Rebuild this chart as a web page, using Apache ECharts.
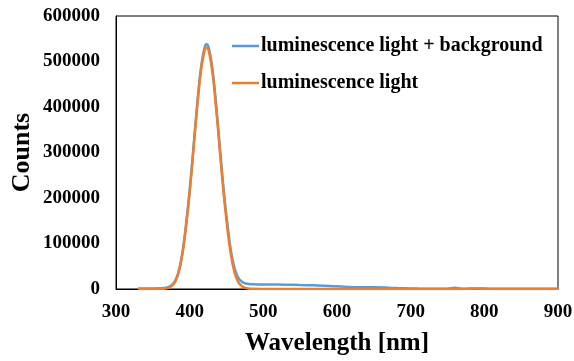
<!DOCTYPE html>
<html>
<head>
<meta charset="utf-8">
<script src="https://cdn.jsdelivr.net/npm/echarts@6/dist/echarts.min.js"></script>
<style>
  html, body { margin: 0; padding: 0; background: #fff; }
  #chart { width: 574px; height: 361px; }
</style>
</head>
<body>
<div id="chart"></div>
<script>
'use strict';

// wavelength in nm
var wavelength = [330, 340, 350, 360, 365, 370, 375, 380, 385, 390, 395, 400, 405, 410, 415, 420, 423,
  426, 431, 436, 441, 446, 451, 456, 461, 466, 471, 476, 481, 486, 496, 510, 530, 550, 570, 590,
  610, 630, 650, 670, 690, 710, 730, 750, 760, 770, 790, 810, 840, 870, 900];

// luminescence light + background
var countsTotal = [1200, 1200, 1300, 1500, 2100, 3700, 7800, 17000, 38500, 78000, 140200, 216600, 307800, 401800, 481300, 529300, 537800,
  529800, 482700, 404300, 311500, 221300, 145800, 84300, 45500, 24700, 15900, 12200, 10800, 10300, 10100, 9900, 9600, 8800, 8000, 6800,
  4800, 3600, 3800, 3000, 1600, 900, 700, 600, 2800, 500, 1300, 400, 300, 300, 300];

// luminescence light
var countsLum = [200, 200, 200, 300, 800, 2200, 6000, 15000, 36000, 75000, 136800, 212600, 303200, 396400, 475300, 522800, 531000,
  522800, 475300, 396400, 303200, 212600, 136800, 75000, 36000, 15000, 6000, 2200, 800, 300, 100, 100, 100, 100, 100, 100,
  100, 100, 100, 100, 100, 100, 100, 100, 200, 100, 1200, 100, 100, 100, 100];

var seriesNames = ['luminescence light + background', 'luminescence light'];

function pairs(xs, ys) {
  return xs.map(function (x, i) { return [x, ys[i]]; });
}

var font = 'Liberation Serif';

var option = {
  animation: false,
  grid: {
    left: 116,
    right: 16,
    top: 16,
    bottom: 72,
    outerBoundsMode: 'none',
    containLabel: false,
    show: true,
    borderColor: '#000',
    borderWidth: 1
  },
  legend: {
    orient: 'vertical',
    left: 227,
    top: 31,
    itemWidth: 27,
    itemHeight: 14,
    itemGap: 17,
    icon: 'path://M0,6 L27,6 L27,8.5 L0,8.5 Z',
    textStyle: {
      fontFamily: font,
      fontWeight: 'bold',
      fontSize: 20,
      color: '#000',
      padding: [0, 0, 0, -3]
    },
    data: seriesNames
  },
  xAxis: {
    type: 'value',
    min: 300,
    max: 900,
    interval: 100,
    name: 'Wavelength [nm]',
    nameLocation: 'middle',
    nameGap: 42,
    nameMoveOverlap: false,
    nameTextStyle: { fontFamily: font, fontWeight: 'bold', fontSize: 25, color: '#000' },
    axisLine: { onZero: false, lineStyle: { color: '#000', width: 1 } },
    axisTick: { show: false },
    splitLine: { show: false },
    axisLabel: { fontFamily: font, fontWeight: 'bold', fontSize: 19, color: '#000', margin: 14 }
  },
  yAxis: {
    type: 'value',
    min: 0,
    max: 600000,
    interval: 100000,
    name: 'Counts',
    nameLocation: 'middle',
    nameGap: 81,
    nameMoveOverlap: false,
    nameTextStyle: { fontFamily: font, fontWeight: 'bold', fontSize: 26, color: '#000' },
    axisLine: { show: true, lineStyle: { color: '#000', width: 1 } },
    axisTick: { show: false },
    splitLine: { show: false },
    axisLabel: {
      fontFamily: font, fontWeight: 'bold', fontSize: 19, color: '#000', margin: 16,
      formatter: function (v) { return String(v); }
    }
  },
  series: [{
    name: seriesNames[0],
    type: 'line',
    showSymbol: false,
    symbol: 'none',
    smooth: 0.4,
    lineStyle: { color: '#5b9bd5', width: 2.5 },
    itemStyle: { color: '#5b9bd5' },
    data: pairs(wavelength, countsTotal)
  }, {
    name: seriesNames[1],
    type: 'line',
    showSymbol: false,
    symbol: 'none',
    smooth: 0.4,
    lineStyle: { color: '#ed7d31', width: 2.5 },
    itemStyle: { color: '#ed7d31' },
    data: pairs(wavelength, countsLum)
  }]
};

var myChart = echarts.init(document.getElementById('chart'));
myChart.setOption(option);
</script>
</body>
</html>
